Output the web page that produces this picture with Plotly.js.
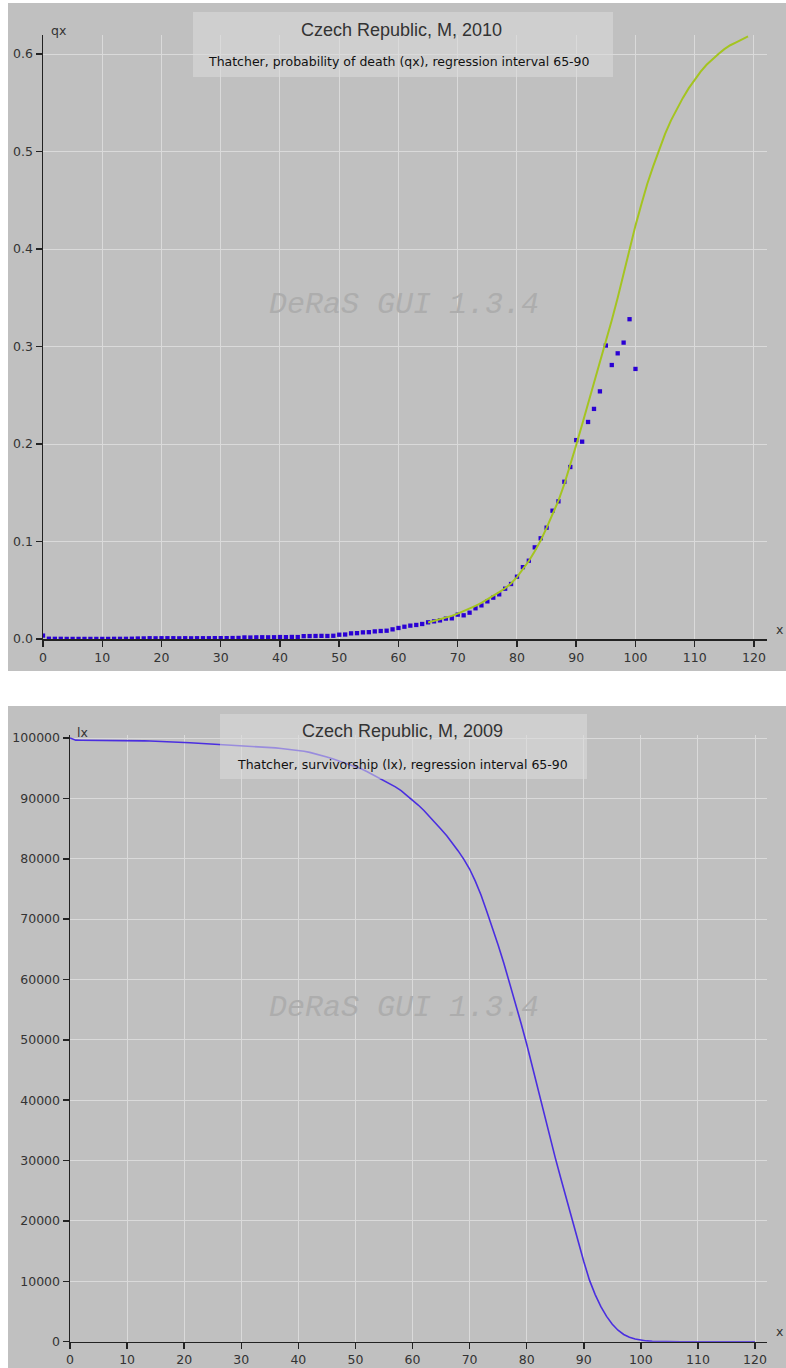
<!DOCTYPE html>
<html>
<head>
<meta charset="utf-8">
<script src="https://cdn.plot.ly/plotly-3.0.1.min.js"></script>
<style>html,body{margin:0;padding:0;background:#fff;}#chart{width:786px;height:1368px;}</style>
</head>
<body>
<div id="chart"></div>
<script>
// ---- data ----
const qxAges = [];
for (let a = 0; a <= 100; a++) qxAges.push(a);
const qxObserved = [
  0.0035,0.0003,0.0002,0.0002,0.0001,0.0001,0.0001,0.0001,0.0001,0.0001,
  0.0001,0.0001,0.0002,0.0002,0.0002,0.0003,0.0005,0.0006,0.0008,0.0007,
  0.0008,0.0008,0.0008,0.0007,0.0008,0.0007,0.0008,0.0008,0.0008,0.0009,
  0.0009,0.0009,0.0010,0.0011,0.0016,0.0015,0.0017,0.0018,0.0017,0.0018,
  0.0020,0.0019,0.0021,0.0020,0.0029,0.0030,0.0031,0.0032,0.0031,0.0033,
  0.0044,0.0046,0.0058,0.0060,0.0068,0.0070,0.0078,0.0082,0.0085,0.0099,
  0.0113,0.0126,0.0137,0.0144,0.0154,0.0171,0.0181,0.0191,0.0209,0.0212,
  0.0250,0.0243,0.0270,0.0315,0.0345,0.0386,0.0424,0.0458,0.0516,0.0564,
  0.0639,0.0737,0.0803,0.0940,0.1033,0.1142,0.1316,0.1412,0.1613,0.1764,
  0.2040,0.2024,0.2226,0.2360,0.2540,0.3010,0.2810,0.2930,0.3040,0.3280,
  0.2770
];
const fitAges = [];
for (let a = 65; a <= 119; a++) fitAges.push(a);
const qxFitted = [
  0.0170,0.0185,0.0200,0.0218,0.0237,0.0260,0.0285,0.0310,0.0340,0.0370,
  0.0405,0.0440,0.0480,0.0520,0.0570,0.0635,0.0715,0.0800,0.0900,0.1010,
  0.1140,0.1280,0.1420,0.1590,0.1780,0.1990,0.2200,0.2410,0.2620,0.2830,
  0.3040,0.3270,0.3500,0.3750,0.4000,0.4240,0.4460,0.4670,0.4850,0.5020,
  0.5180,0.5320,0.5440,0.5550,0.5650,0.5740,0.5820,0.5890,0.5950,0.6000,
  0.6050,0.6090,0.6120,0.6150,0.6180
];
const lxAges = [];
for (let a = 0; a <= 120; a++) lxAges.push(a);
const lxValues = [
  100000,99650,99620,99600,99590,99580,99570,99560,99555,99550,
  99545,99540,99530,99520,99510,99490,99460,99420,99370,99320,
  99270,99220,99170,99120,99070,99020,98970,98920,98870,98820,
  98770,98710,98650,98590,98520,98440,98360,98270,98170,98060,
  97950,97800,97620,97400,97150,96870,96570,96250,95950,95650,
  95300,94900,94450,93950,93450,92950,92450,91900,91300,90550,
  89750,88900,88000,87000,86000,84900,83800,82600,81300,79900,
  78300,76300,74000,71300,68600,65700,62700,59500,56200,52800,
  49300,45500,41600,37800,34100,30500,27000,23500,20100,16700,
  13300,10200,7800,5800,4200,2900,1900,1200,750,450,
  250,130,60,25,10,0,0,0,0,0,
  0,0,0,0,0,0,0,0,0,0,
  0
];
const xTicks = [0,10,20,30,40,50,60,70,80,90,100,110,120];
const titleTop = "Czech Republic, M, 2010";
const subTop = "Thatcher, probability of death (qx), regression interval 65-90";
const titleBot = "Czech Republic, M, 2009";
const subBot = "Thatcher, survivorship (lx), regression interval 65-90";
const watermark = "DeRaS GUI 1.3.4";

// ---- layout helpers (pixel -> paper) ----
const W = 786, H = 1368;
const px = x => x / W;
const py = y => 1 - y / H;

const axisCommon = {
  showline: true, linecolor: '#222', linewidth: 1.5,
  ticks: 'outside', ticklen: 6, tickcolor: '#222', tickwidth: 1.5,
  showgrid: true, gridcolor: '#dadada', gridwidth: 1,
  zeroline: false,
  tickfont: {family: 'DejaVu Sans', size: 12.5, color: '#333'}
};

const traces = [
  {x: qxAges, y: qxObserved, type: 'scatter', mode: 'markers', xaxis: 'x', yaxis: 'y',
   marker: {symbol: 'square', size: 4.3, color: '#2a00d4', line: {width: 0}}, hoverinfo: 'x+y'},
  {x: fitAges, y: qxFitted, type: 'scatter', mode: 'lines', xaxis: 'x', yaxis: 'y',
   line: {color: '#a4c420', width: 2}},
  {x: lxAges, y: lxValues, type: 'scatter', mode: 'lines', xaxis: 'x2', yaxis: 'y2',
   line: {color: '#4a2ee0', width: 1.6}}
];

const titleFont = {family: 'Liberation Sans', size: 18, color: '#333'};
const subFont = {family: 'DejaVu Sans', size: 12.5, color: '#111'};
const axLabFont = {family: 'DejaVu Sans', size: 12.5, color: '#333'};

const layout = {
  width: W, height: H,
  margin: {l: 0, r: 0, t: 0, b: 0},
  paper_bgcolor: '#ffffff', plot_bgcolor: 'rgba(0,0,0,0)',
  showlegend: false,
  xaxis: Object.assign({}, axisCommon, {domain: [px(43), px(767)], range: [0, 122.2], tickvals: xTicks, anchor: 'y'}),
  yaxis: Object.assign({}, axisCommon, {domain: [py(639), py(35)], range: [0, 0.6195], dtick: 0.1, tickformat: '.1f', anchor: 'x'}),
  xaxis2: Object.assign({}, axisCommon, {domain: [px(70), px(767)], range: [0, 122.1], tickvals: xTicks, anchor: 'y2'}),
  yaxis2: Object.assign({}, axisCommon, {domain: [py(1341.7), py(735)], range: [0, 100500], dtick: 10000, tickformat: 'd', anchor: 'x2'}),
  shapes: [
    {type: 'rect', xref: 'paper', yref: 'paper', x0: px(8), x1: 1, y0: py(671), y1: py(3),
     fillcolor: '#c0c0c0', line: {width: 0}, layer: 'below'},
    {type: 'rect', xref: 'paper', yref: 'paper', x0: px(8), x1: 1, y0: 0, y1: py(706),
     fillcolor: '#c0c0c0', line: {width: 0}, layer: 'below'},
    {type: 'rect', xref: 'paper', yref: 'paper', x0: px(193), x1: px(613), y0: py(77), y1: py(12),
     fillcolor: 'rgba(218,218,218,0.55)', line: {width: 0}, layer: 'above'},
    {type: 'rect', xref: 'paper', yref: 'paper', x0: px(220), x1: px(587), y0: py(779), y1: py(714),
     fillcolor: 'rgba(218,218,218,0.55)', line: {width: 0}, layer: 'above'}
  ],
  annotations: [
    {text: titleTop, xref: 'paper', yref: 'paper', x: px(402), y: py(30), showarrow: false,
     xanchor: 'center', yanchor: 'middle', font: titleFont},
    {text: subTop, xref: 'paper', yref: 'paper', x: px(399), y: py(62), showarrow: false,
     xanchor: 'center', yanchor: 'middle', font: subFont},
    {text: titleBot, xref: 'paper', yref: 'paper', x: px(403), y: py(731), showarrow: false,
     xanchor: 'center', yanchor: 'middle', font: titleFont},
    {text: subBot, xref: 'paper', yref: 'paper', x: px(403), y: py(764), showarrow: false,
     xanchor: 'center', yanchor: 'middle', font: subFont},
    {text: 'qx', xref: 'paper', yref: 'paper', x: px(49), y: py(31), showarrow: false,
     xanchor: 'left', yanchor: 'middle', font: axLabFont},
    {text: 'lx', xref: 'paper', yref: 'paper', x: px(75), y: py(732), showarrow: false,
     xanchor: 'left', yanchor: 'middle', font: axLabFont},
    {text: 'x', xref: 'paper', yref: 'paper', x: px(785), y: py(629), showarrow: false,
     xanchor: 'right', yanchor: 'middle', font: axLabFont},
    {text: 'x', xref: 'paper', yref: 'paper', x: px(785), y: py(1331), showarrow: false,
     xanchor: 'right', yanchor: 'middle', font: axLabFont},
    {text: '<i>' + watermark + '</i>', xref: 'paper', yref: 'paper', x: px(404), y: py(305), showarrow: false,
     xanchor: 'center', yanchor: 'middle', font: {family: 'Liberation Mono', size: 30, color: '#adadad'}},
    {text: '<i>' + watermark + '</i>', xref: 'paper', yref: 'paper', x: px(404), y: py(1008), showarrow: false,
     xanchor: 'center', yanchor: 'middle', font: {family: 'Liberation Mono', size: 30, color: '#adadad'}}
  ]
};

Plotly.newPlot('chart', traces, layout, {displayModeBar: false, staticPlot: true});
</script>
</body>
</html>
